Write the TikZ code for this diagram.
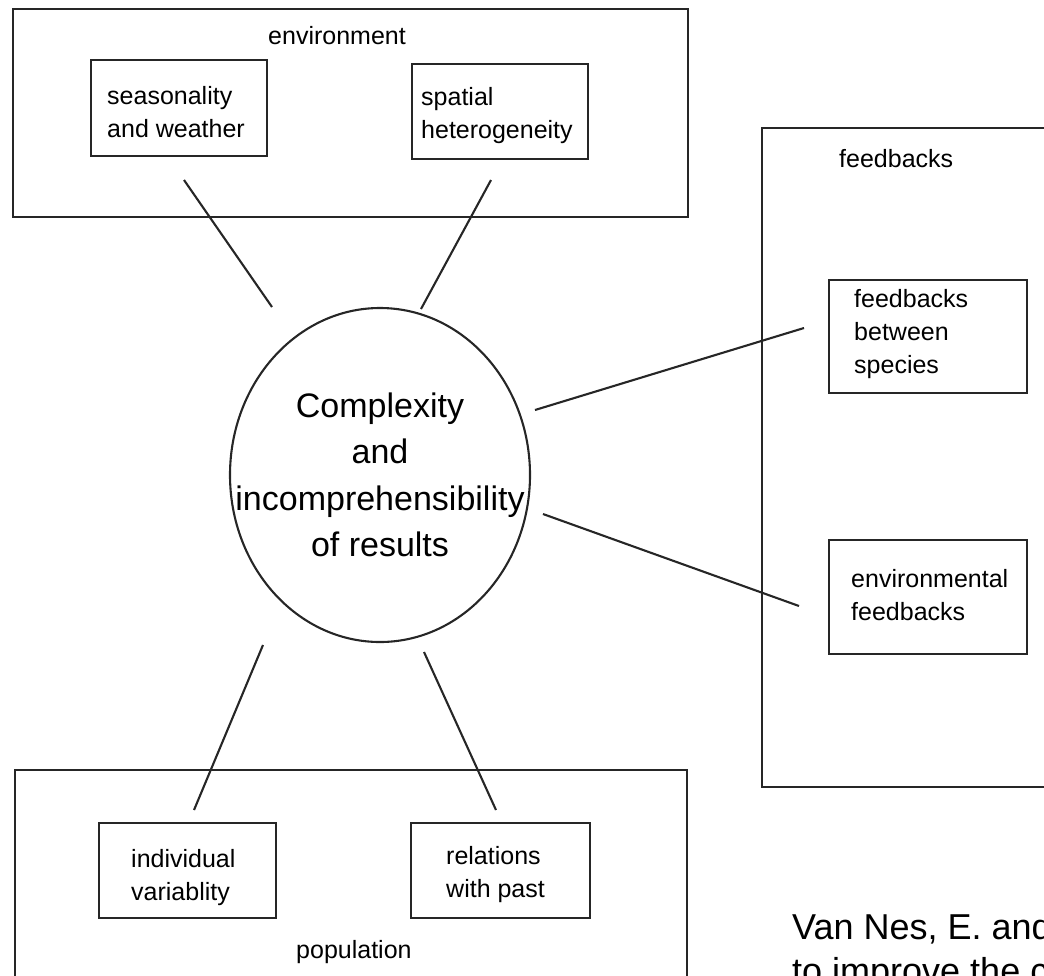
\documentclass[tikz,border=0pt]{standalone}
\usepackage{fontspec}
\setmainfont{Liberation Sans}

\tikzset{
  frame/.style={line width=2.8pt,black!85},
  link/.style={line width=2.1pt,black!85},
  lbl/.style={anchor=base west,align=left,inner sep=0pt,font=\fontsize{25pt}{33pt}\selectfont}
}

\begin{document}
\begin{tikzpicture}[x=1pt,y=-1pt]
\useasboundingbox (0,0) rectangle (1044,975);
\clip (0,0) rectangle (1044,975);
% frames: environment, population, feedbacks
\draw[frame] (13,9) rectangle (688,217);
\draw[frame] (91,60) rectangle (267,156); \draw[frame] (412,64) rectangle (588,159);
\draw[frame] (15,770) rectangle (687,990);
\draw[frame] (99,823) rectangle (276,918); \draw[frame] (411,823) rectangle (590,918);
\draw[frame] (762,128) rectangle (1090,787);
\draw[frame] (829,280) rectangle (1027,393); \draw[frame] (829,540) rectangle (1027,654);
% labels (base = last line)
\node[lbl] (env) at (268,44) {environment};
\node[lbl] (season) at (107,137) {seasonality\\and weather};
\node[lbl] (spatial) at (421,138) {spatial\\heterogeneity};
\node[lbl] (pop) at (296,958) {population};
\node[lbl] (indiv) at (131,900) {individual\\variablity};
\node[lbl] (past) at (446,897) {relations\\with past};
\node[lbl] (fb) at (839,167) {feedbacks};
\node[lbl] (fbsp) at (854,373) {feedbacks\\between\\species};
\node[lbl] (fbenv) at (851,620) {environmental\\feedbacks};
% centre
\node[inner sep=0pt,align=center,font=\fontsize{34pt}{46.5pt}\selectfont] (cx) at (380,475) {Complexity\\and\\incomprehensibility\\of results};
\draw[link] (cx.center) ellipse [x radius=150pt, y radius=167pt];
% spokes
\coordinate (A1) at (184,180); \coordinate (A2) at (272,307); \coordinate (B1) at (491,180); \coordinate (B2) at (421,309);
\coordinate (C1) at (535,410); \coordinate (C2) at (804,328); \coordinate (D1) at (543,514); \coordinate (D2) at (799,606);
\coordinate (P1) at (263,645); \coordinate (P2) at (194,810); \coordinate (Q1) at (424,652); \coordinate (Q2) at (496,810);
\draw[link] (A1)--(A2); \draw[link] (B1)--(B2);
\draw[link] (C1)--(C2); \draw[link] (D1)--(D2);
\draw[link] (P1)--(P2); \draw[link] (Q1)--(Q2);
% source
\node[anchor=base west,align=left,inner sep=0pt,font=\fontsize{36pt}{44pt}\selectfont] (src) at (792,983) {Van Nes, E. and\\to improve the c};
\end{tikzpicture}
\end{document}
